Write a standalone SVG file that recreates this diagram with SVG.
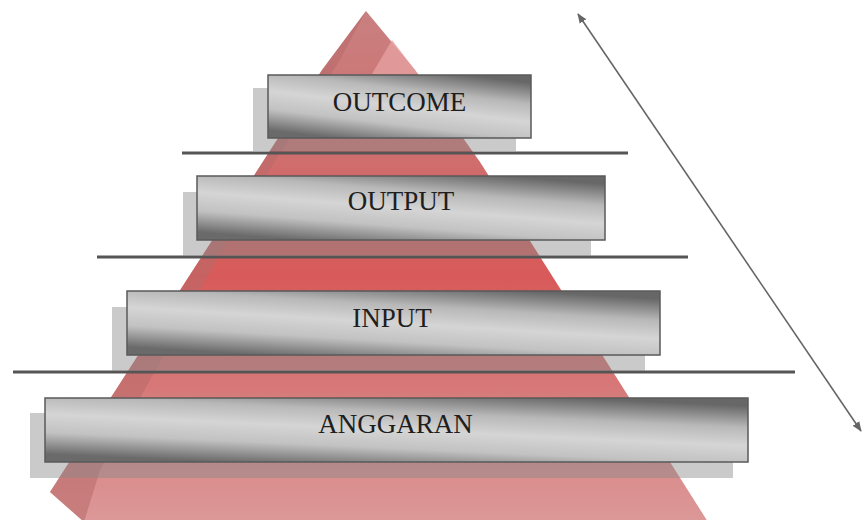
<svg xmlns="http://www.w3.org/2000/svg" width="863" height="520" viewBox="0 0 863 520">
<defs>
<linearGradient id="front" x1="0" y1="0" x2="0" y2="1">
<stop offset="0" stop-color="#c98080"/>
<stop offset="0.28" stop-color="#cf6e6e"/>
<stop offset="0.52" stop-color="#d85a5a"/>
<stop offset="0.75" stop-color="#d77a7a"/>
<stop offset="1" stop-color="#dc9898"/>
</linearGradient>
<linearGradient id="metal" x1="0.75" y1="0" x2="0.25" y2="1">
<stop offset="0" stop-color="#676767"/>
<stop offset="0.27" stop-color="#b8b8b8"/>
<stop offset="0.5" stop-color="#d5d5d5"/>
<stop offset="0.73" stop-color="#c2c2c2"/>
<stop offset="1" stop-color="#6a6a6a"/>
</linearGradient>
<marker id="ah" viewBox="0 0 10 10" refX="9" refY="5" markerWidth="10" markerHeight="10" orient="auto-start-reverse" markerUnits="userSpaceOnUse">
<path d="M0,1 L10,5 L0,9 z" fill="#666"/>
</marker>
<style>
.back{fill:#8a8a8a;fill-opacity:0.45}
.box{fill:url(#metal);stroke:#5a5a5a;stroke-width:1.5}
.lbl{font-family:"Liberation Serif","Times New Roman",serif;font-size:27px;fill:#1e1e1e;text-anchor:middle}
.sep{stroke:#555;stroke-width:3}
</style>
</defs>
<g id="pyramid">
<polygon points="366,11 322,70 50,492 84,522 708,522 613,372 480,162 415,70" fill="url(#front)"/>
<polygon points="366,11 322,70 50,492 84,522 100,470 250,200 340,60" fill="#b86a6a" fill-opacity="0.55"/>
<polygon points="392,40 418,74 372,74" fill="#e6a0a0" fill-opacity="0.8"/>
</g>
<g id="connectors">
<line class="sep" x1="182" y1="153" x2="628" y2="153"/>
<line class="sep" x1="97" y1="257" x2="688" y2="257"/>
<line class="sep" x1="13" y1="372" x2="795" y2="372"/>
<line x1="578" y1="14" x2="861" y2="431" stroke="#666" stroke-width="1.6" marker-start="url(#ah)" marker-end="url(#ah)"/>
</g>
<g id="outcome">
<rect class="back" x="253" y="88" width="263" height="63"/>
<rect class="box" x="268" y="75" width="263" height="63"/>
<text class="lbl" x="399.5" y="111">OUTCOME</text>
</g>
<g id="output">
<rect class="back" x="183" y="192" width="408" height="64"/>
<rect class="box" x="197" y="176" width="408" height="64"/>
<text class="lbl" x="401" y="210">OUTPUT</text>
</g>
<g id="input">
<rect class="back" x="112" y="307" width="533" height="64"/>
<rect class="box" x="127" y="291" width="533" height="64"/>
<text class="lbl" x="392" y="327">INPUT</text>
</g>
<g id="anggaran">
<rect class="back" x="30" y="413" width="703" height="65"/>
<rect class="box" x="45" y="398" width="703" height="64"/>
<text class="lbl" x="395.5" y="433">ANGGARAN</text>
</g>
</svg>
